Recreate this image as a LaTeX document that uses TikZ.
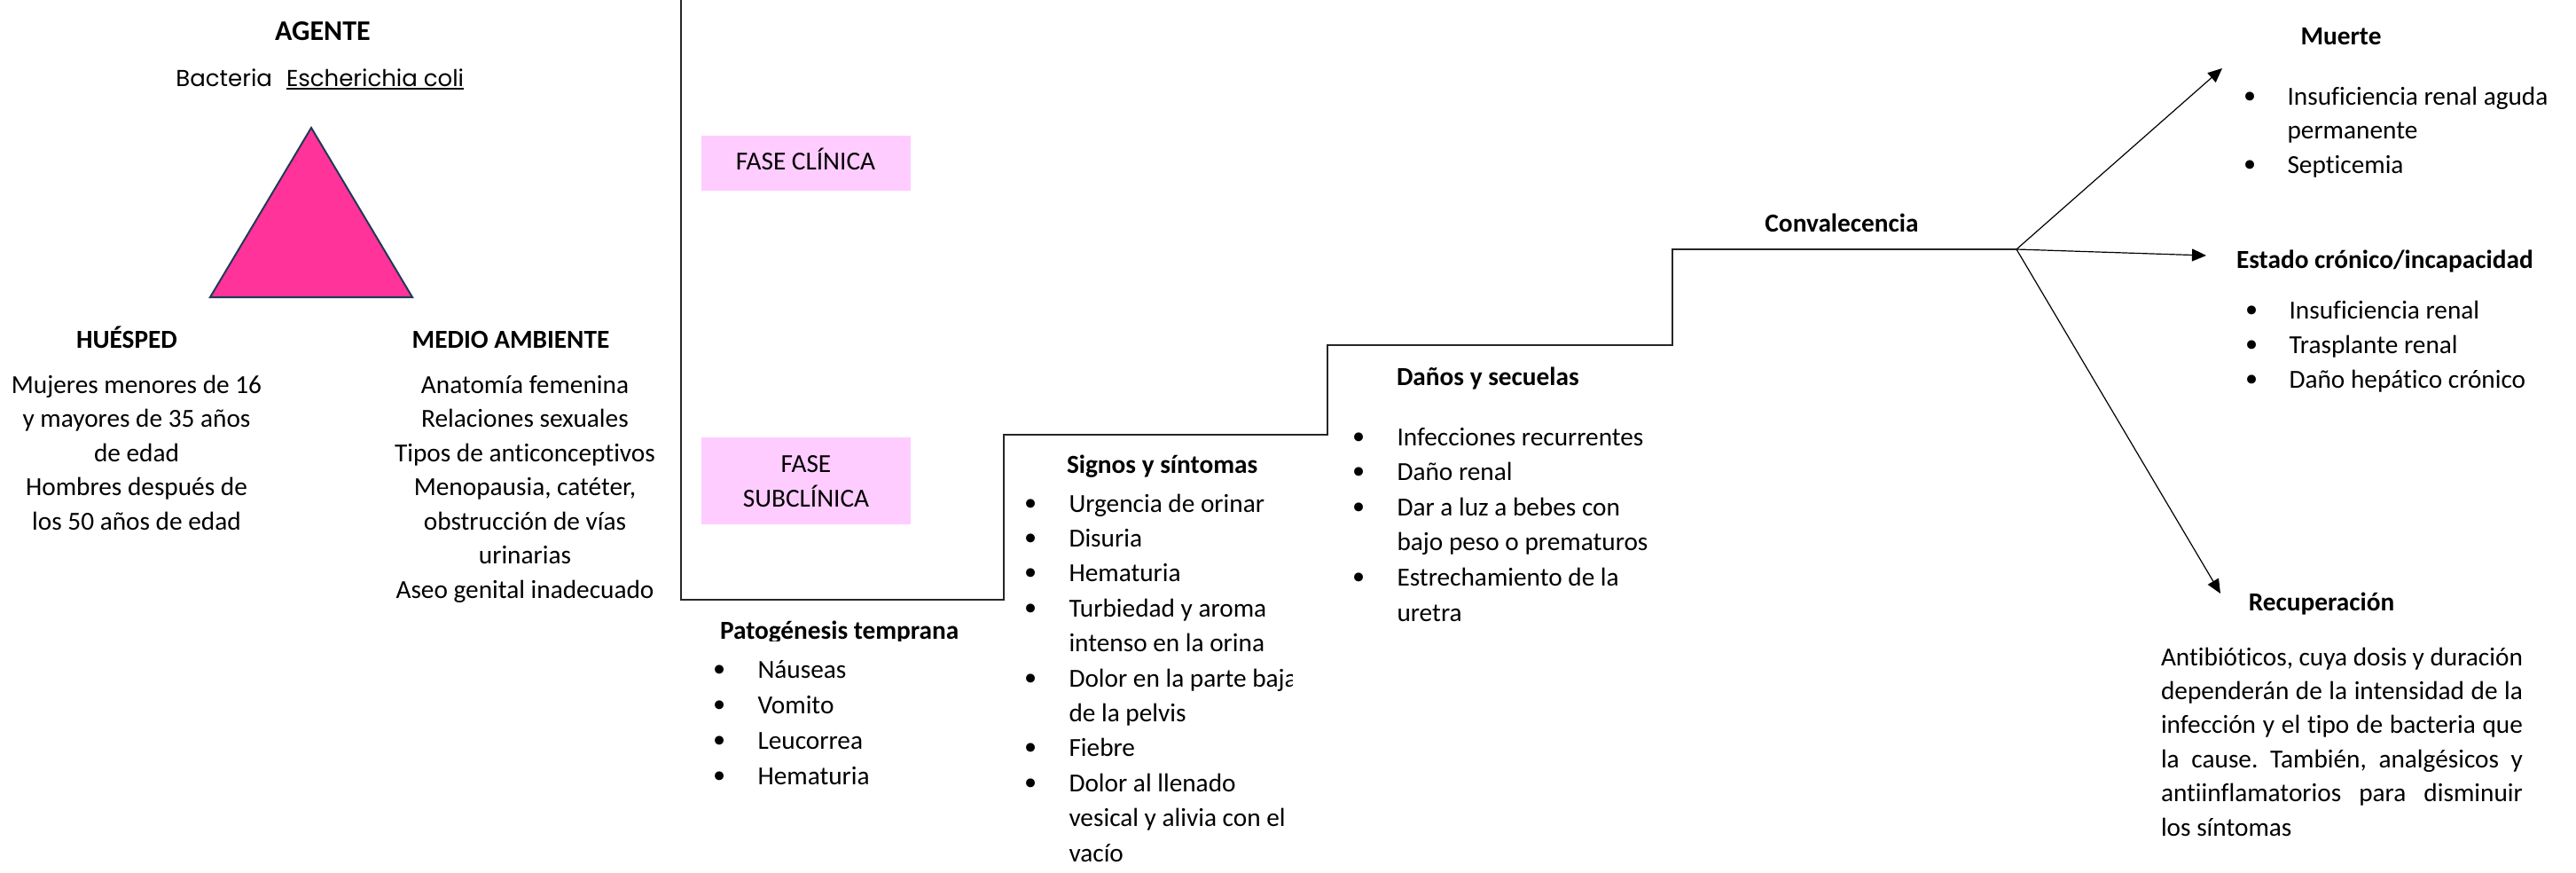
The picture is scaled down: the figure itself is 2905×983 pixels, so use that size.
\documentclass[tikz,border=0pt]{standalone}
\usepackage{fontspec}
\setmainfont[Ligatures=NoCommon]{Carlito}
\newfontfamily\gothic{Poppins}
\newfontfamily\dvs{DejaVu Sans}
\usetikzlibrary{arrows.meta}
\definecolor{tri}{HTML}{FF3399}
\definecolor{triline}{HTML}{1F3A56}
\definecolor{fase}{HTML}{FFCCFF}
\newcommand\nsz{\fontsize{29.3pt}{39pt}\selectfont}
\newcommand\hsz{\fontsize{32pt}{39pt}\selectfont}
\newcommand\fsz[1]{\fontsize{29.3pt}{#1pt}\selectfont}
\newcommand\bu{\makebox[42.5pt][l]{\makebox[0pt]{\raisebox{-3pt}{\dvs\fontsize{34pt}{34pt}\selectfont •}}}}
\newcommand\nb{\hspace*{42.5pt}}
\begin{document}
\frenchspacing
\begin{tikzpicture}[x=1pt,y=-1pt,
  txt/.style={inner sep=0pt, outer sep=0pt, font=\nsz},
  hd/.style={inner sep=0pt, outer sep=0pt, font=\nsz\bfseries},
  stepline/.style={line width=1.5pt, draw=black!85},
  outarrow/.style={line width=1.2pt, -{Triangle[length=16pt,width=14pt]}},
  fasebox/.style={fill=fase, draw=none, minimum width=236pt, inner sep=0pt, font=\nsz}]
\fill[white] (0,0) rectangle (2905,983);
\useasboundingbox (0,0) rectangle (2905,983);

% ---- triad ----
\node[txt, font=\hsz\bfseries, anchor=base] (agente) at (364,45) {AGENTE};
\node[txt, font=\gothic\fontsize{26pt}{30pt}\selectfont, anchor=base east] (bact) at (307,97) {Bacteria};
\node[txt, font=\gothic\fontsize{26pt}{30pt}\selectfont, anchor=base west] (ecoli) at (323,97) {Escherichia coli};
\draw[line width=1.8pt] ([yshift=-3pt]ecoli.base west) -- ([yshift=-3pt]ecoli.base east);
\draw[fill=tri, draw=triline, line width=2pt] (351,144) -- (465,335) -- (237,335) -- cycle;

\node[hd, anchor=base] (huesped) at (143,392) {HUÉSPED};
\node[hd, anchor=base] (medio) at (576,392) {MEDIO AMBIENTE};
\node[txt, font={\fsz{38.5}}, anchor=base] (huestxt) at (154,443) {\begin{tabular}[t]{@{}c@{}}Mujeres menores de 16\\ y mayores de 35 años\\ de edad\\ Hombres después de\\ los 50 años de edad\end{tabular}};
\node[txt, font={\fsz{38.5}}, anchor=base] (mediotxt) at (592,443) {\begin{tabular}[t]{@{}c@{}}Anatomía femenina\\ Relaciones sexuales\\ Tipos de anticonceptivos\\ Menopausia, catéter,\\ obstrucción de vías\\ urinarias\\ Aseo genital inadecuado\end{tabular}};

% ---- natural history steps ----
\coordinate (j) at (2274,281);
\draw[stepline] (768,0) -- (768,676) -- (1132,676) -- (1132,490) -- (1497,490) -- (1497,389) -- (1886,389) -- (1886,281) -- (j);

\node[fasebox, minimum height=62pt, text height=19pt, text depth=5pt] (fclin) at (908.5,184) {FASE CLÍNICA};
\node[fasebox, minimum height=98pt] (fsub) at (909,542) {};
\node[txt, anchor=base] (fsubtxt) at (909,532) {\begin{tabular}[t]{@{}c@{}}FASE\\ SUBCLÍNICA\end{tabular}};

\begin{scope}
\clip (790,690) rectangle (1110,722);
\node[hd, anchor=base west] (pat) at (812,720) {Patogénesis temprana};
\end{scope}
\node[txt, font={\fsz{40}}, anchor=base west] (patlist) at (812,764) {\begin{tabular}[t]{@{}l@{}}\bu Náuseas\\ \bu Vomito\\ \bu Leucorrea\\ \bu Hematuria\end{tabular}};

\node[hd, anchor=base west] (signos) at (1203,533) {Signos y síntomas};
\begin{scope}
\clip (1140,545) rectangle (1457,983);
\node[txt, font={\fsz{39.4}}, anchor=base west] (signoslist) at (1163,577) {\begin{tabular}[t]{@{}l@{}}\bu Urgencia de orinar\\ \bu Disuria\\ \bu Hematuria\\ \bu Turbiedad y aroma\\ \nb intenso en la orina\\ \bu Dolor en la parte baja\\ \nb de la pelvis\\ \bu Fiebre\\ \bu Dolor al llenado\\ \nb vesical y alivia con el\\ \nb vacío\end{tabular}};
\end{scope}

\node[hd, anchor=base west] (danos) at (1575,434) {Daños y secuelas};
\node[txt, font={\fsz{39.6}}, anchor=base west] (danoslist) at (1533,502) {\begin{tabular}[t]{@{}l@{}}\bu Infecciones recurrentes\\ \bu Daño renal\\ \bu Dar a luz a bebes con\\ \nb bajo peso o prematuros\\ \bu Estrechamiento de la\\ \nb uretra\end{tabular}};

\node[hd, anchor=base] (conv) at (2077,261) {Convalecencia};

% ---- outcomes ----
\node[hd, anchor=base] (muerte) at (2640,50) {Muerte};
\node[txt, font={\fsz{38.5}}, anchor=base west] (muertelist) at (2537,118) {\begin{tabular}[t]{@{}l@{}}\bu Insuficiencia renal aguda\\ \nb permanente\\ \bu Septicemia\end{tabular}};

\node[hd, anchor=base west] (estado) at (2522,302) {Estado crónico/incapacidad};
\node[txt, font={\fsz{39}}, anchor=base west] (estadolist) at (2539,359) {\begin{tabular}[t]{@{}l@{}}\bu Insuficiencia renal\\ \bu Trasplante renal\\ \bu Daño hepático crónico\end{tabular}};

\node[hd, anchor=base] (recup) at (2618,688) {Recuperación};
\node[txt, font={\fsz{38.4}}, anchor=base west] (recuptxt) at (2437,750) {\begin{tabular}[t]{@{}l@{}}\makebox[408pt][s]{Antibióticos, cuya dosis y duración}\\ \makebox[408pt][s]{dependerán de la intensidad de la}\\ \makebox[408pt][s]{infección y el tipo de bacteria que}\\ \makebox[408pt][s]{la cause. También, analgésicos y}\\ \makebox[408pt][s]{antiinflamatorios para disminuir}\\ los síntomas\end{tabular}};

\coordinate (tm) at (2506,77);
\coordinate (te) at (2488,288);
\coordinate (tr) at (2504,669);
\draw[outarrow] (j) -- (tm);
\draw[outarrow] (j) -- (te);
\draw[outarrow] (j) -- (tr);
\end{tikzpicture}
\end{document}
